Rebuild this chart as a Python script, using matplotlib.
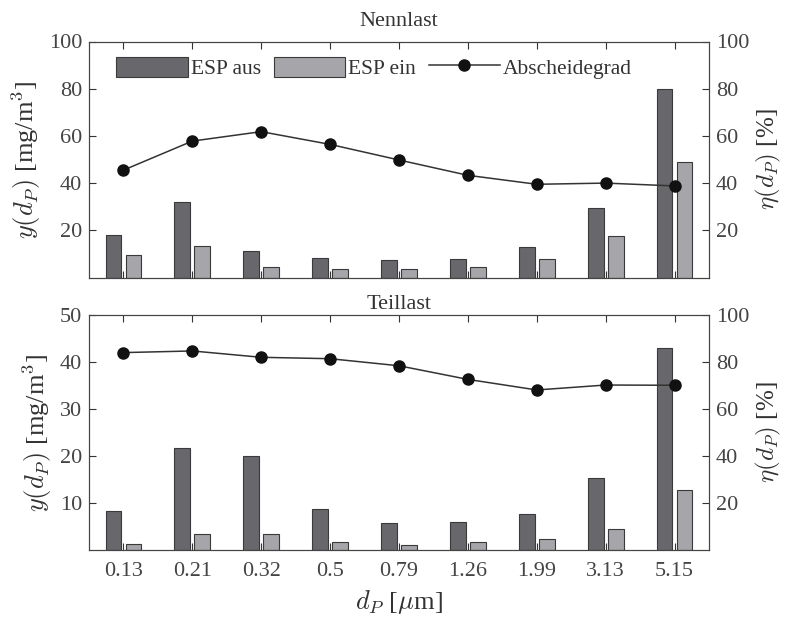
import numpy as np
import matplotlib
matplotlib.use("Agg")
import matplotlib.pyplot as plt
from matplotlib.ticker import FixedLocator

plt.rcParams['font.family'] = ['Liberation Serif', 'DejaVu Serif']
plt.rcParams['mathtext.fontset'] = 'cm'
plt.rcParams['font.size'] = 16

# Partikelgroessen
sizes = ['0.13', '0.21', '0.32', '0.5', '0.79', '1.26', '1.99', '3.13', '5.15']

# Nennlast
nenn_aus = [17.8, 32.0, 11.4, 8.4, 7.3, 7.8, 12.9, 29.6, 80.0]
nenn_ein = [9.7, 13.5, 4.5, 3.8, 3.8, 4.5, 7.8, 17.7, 48.9]
nenn_eta = [45.5, 57.8, 61.8, 56.4, 49.8, 43.3, 39.5, 40.0, 38.8]

# Teillast
teil_aus = [8.4, 21.8, 19.9, 8.7, 5.7, 6.0, 7.7, 15.4, 43.0]
teil_ein = [1.3, 3.3, 3.5, 1.6, 1.1, 1.6, 2.4, 4.5, 12.8]
teil_eta = [84.0, 84.7, 82.0, 81.4, 78.4, 72.6, 68.1, 70.2, 70.1]

c_dark = '#67676c'
c_light = '#a5a5aa'
c_edge = '#3a3a3a'

fig = plt.figure(figsize=(7.85, 6.18), dpi=100)
ax1 = fig.add_axes([89/785, 1-277.5/618, 620/785, 236/618])
ax2 = fig.add_axes([89/785, 1-550/618, 620/785, 235/618])

x = np.arange(len(sizes))
w = 0.23
off = 0.145


def panel(ax, aus, ein, eta, ymax, yticks, title, tpad):
    b1 = ax.bar(x - off, aus, w, color=c_dark, edgecolor=c_edge, linewidth=0.8, label='ESP aus')
    b2 = ax.bar(x + off, ein, w, color=c_light, edgecolor=c_edge, linewidth=0.8, label='ESP ein')
    ax.set_xlim(-0.5, len(sizes) - 0.5)
    ax.set_ylim(0, ymax)
    ax.yaxis.set_major_locator(FixedLocator(yticks))
    ax.set_xticks(x)
    ax.tick_params(direction='in', top=True, length=5, width=0.8, colors='#333333',
                   labelcolor='#444444', pad=5)
    ax.tick_params(axis='x', pad=9)
    ax.set_ylabel(r'$y(d_P)$ [mg/m$^3$]', fontsize=19, color='#333333', labelpad=4)
    ax.set_title(title, fontsize=16, color='#333333', pad=tpad)
    for s in ax.spines.values():
        s.set_color('#444444')
        s.set_linewidth(0.8)

    ar = ax.twinx()
    ln, = ar.plot(x, eta, '-o', color='#333333', markerfacecolor='#111111',
                  markeredgecolor='#111111', ms=8, lw=1.1, label='Abscheidegrad')
    ar.set_ylim(0, 100)
    ar.yaxis.set_major_locator(FixedLocator([20, 40, 60, 80, 100]))
    ar.tick_params(direction='in', length=5, width=0.8, colors='#333333', labelcolor='#444444',
                   pad=5)
    ar.set_ylabel(r'$\eta(d_P)$ [%]', fontsize=18, color='#333333', labelpad=3)
    for s in ar.spines.values():
        s.set_color('#444444')
        s.set_linewidth(0.8)
    return b1, b2, ln


h1, h2, h3 = panel(ax1, nenn_aus, nenn_ein, nenn_eta, 100, [20, 40, 60, 80, 100], 'Nennlast', 11)
ax1.set_xticklabels([])
panel(ax2, teil_aus, teil_ein, teil_eta, 50, [10, 20, 30, 40, 50], 'Teillast', 4)
ax2.set_xticklabels(sizes)
ax2.set_xlabel(r'$d_P$ [$\mu$m]', fontsize=19, color='#333333', labelpad=5)

ax1.legend([h1, h2, h3], ['ESP aus', 'ESP ein', 'Abscheidegrad'], ncol=3, frameon=False,
           loc='upper left', bbox_to_anchor=(0.02, 1.0), handlelength=3.3, handleheight=1.1,
           handletextpad=0.15, columnspacing=0.6, fontsize=15.5, labelcolor='#333333',
           borderaxespad=0.3)

fig.savefig('out.png', dpi=100)
